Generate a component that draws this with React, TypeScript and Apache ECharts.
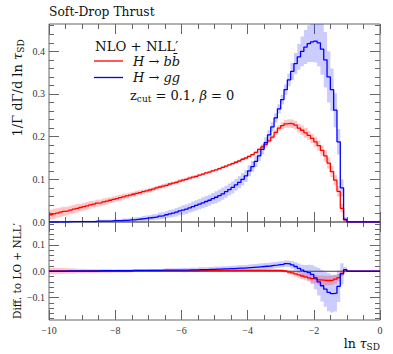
import React, { useEffect, useRef } from 'react';
import * as echarts from 'echarts';

// Histogram binning in ln(tau_SD)
const BIN_START = -10;
const BIN_WIDTH = 0.1;

// H -> bb, NLO + NLL' (top panel)
const bbCentral = [
  0.017, 0.019, 0.021, 0.023, 0.025, 0.026, 0.028, 0.030, 0.032, 0.034,
  0.036, 0.038, 0.040, 0.042, 0.044, 0.045, 0.047, 0.049, 0.051, 0.053,
  0.055, 0.057, 0.059, 0.061, 0.063, 0.065, 0.067, 0.069, 0.071, 0.073,
  0.075, 0.077, 0.080, 0.082, 0.084, 0.086, 0.089, 0.091, 0.093, 0.096,
  0.098, 0.100, 0.103, 0.105, 0.107, 0.110, 0.112, 0.115, 0.117, 0.120,
  0.122, 0.125, 0.128, 0.131, 0.134, 0.137, 0.140, 0.143, 0.147, 0.150,
  0.154, 0.158, 0.163, 0.170, 0.176, 0.182, 0.190, 0.199, 0.210, 0.220,
  0.226, 0.230, 0.231, 0.230, 0.227, 0.220, 0.215, 0.209, 0.203, 0.196,
  0.188, 0.179, 0.168, 0.155, 0.138, 0.118, 0.098, 0.072, 0.032, 0.005,
  0, 0, 0, 0, 0, 0, 0, 0, 0, 0,
];
const bbBand = [
  0.012, 0.012, 0.011, 0.011, 0.011, 0.010, 0.010, 0.010, 0.010, 0.009,
  0.009, 0.009, 0.009, 0.008, 0.008, 0.008, 0.008, 0.008, 0.007, 0.007,
  0.007, 0.007, 0.007, 0.006, 0.006, 0.006, 0.006, 0.006, 0.006, 0.005,
  0.005, 0.005, 0.005, 0.005, 0.005, 0.005, 0.004, 0.004, 0.004, 0.004,
  0.004, 0.004, 0.004, 0.004, 0.004, 0.003, 0.003, 0.003, 0.003, 0.003,
  0.003, 0.003, 0.003, 0.003, 0.003, 0.003, 0.003, 0.003, 0.003, 0.003,
  0.003, 0.003, 0.003, 0.004, 0.004, 0.004, 0.005, 0.005, 0.006, 0.007,
  0.008, 0.009, 0.010, 0.010, 0.010, 0.010, 0.011, 0.011, 0.011, 0.011,
  0.012, 0.012, 0.012, 0.013, 0.013, 0.013, 0.012, 0.012, 0.010, 0.004,
  0, 0, 0, 0, 0, 0, 0, 0, 0, 0,
];

// H -> gg, NLO + NLL' (top panel)
const ggCentral = [
  0.000, 0.000, 0.000, 0.000, 0.000, 0.000, 0.001, 0.001, 0.001, 0.001,
  0.001, 0.001, 0.001, 0.001, 0.002, 0.002, 0.002, 0.002, 0.002, 0.003,
  0.003, 0.003, 0.004, 0.004, 0.005, 0.005, 0.006, 0.007, 0.008, 0.009,
  0.010, 0.011, 0.012, 0.014, 0.015, 0.017, 0.019, 0.021, 0.023, 0.026,
  0.028, 0.030, 0.033, 0.036, 0.039, 0.042, 0.045, 0.048, 0.051, 0.055,
  0.058, 0.062, 0.066, 0.071, 0.076, 0.081, 0.087, 0.093, 0.100, 0.108,
  0.120, 0.130, 0.142, 0.155, 0.170, 0.186, 0.204, 0.223, 0.244, 0.265,
  0.287, 0.310, 0.333, 0.353, 0.371, 0.387, 0.400, 0.410, 0.418, 0.422,
  0.424, 0.420, 0.405, 0.380, 0.340, 0.310, 0.262, 0.188, 0.080, 0.006,
  0, 0, 0, 0, 0, 0, 0, 0, 0, 0,
];
const ggBand = [
  0.001, 0.001, 0.001, 0.001, 0.001, 0.002, 0.002, 0.002, 0.002, 0.002,
  0.002, 0.002, 0.002, 0.002, 0.002, 0.003, 0.003, 0.003, 0.003, 0.003,
  0.003, 0.003, 0.004, 0.004, 0.004, 0.005, 0.005, 0.005, 0.006, 0.006,
  0.006, 0.007, 0.007, 0.008, 0.008, 0.008, 0.009, 0.009, 0.010, 0.010,
  0.011, 0.011, 0.011, 0.012, 0.012, 0.012, 0.013, 0.013, 0.013, 0.013,
  0.014, 0.014, 0.014, 0.014, 0.014, 0.014, 0.014, 0.014, 0.014, 0.014,
  0.013, 0.013, 0.013, 0.012, 0.012, 0.012, 0.011, 0.011, 0.011, 0.011,
  0.011, 0.012, 0.015, 0.020, 0.025, 0.030, 0.035, 0.040, 0.043, 0.047,
  0.050, 0.055, 0.060, 0.065, 0.060, 0.050, 0.040, 0.030, 0.020, 0.005,
  0, 0, 0, 0, 0, 0, 0, 0, 0, 0,
];

// Difference to LO + NLL' (bottom panel)
const bbDiff = [
  0.001, 0.001, 0.001, 0.001, 0.001, 0.001, 0.001, 0.001, 0.001, 0.001,
  0.001, 0.001, 0.001, 0.001, 0.001, 0.001, 0.001, 0.001, 0.001, 0.001,
  0.001, 0.001, 0.001, 0.001, 0.001, 0.002, 0.002, 0.002, 0.002, 0.002,
  0.002, 0.002, 0.002, 0.002, 0.002, 0.002, 0.002, 0.002, 0.002, 0.002,
  0.002, 0.002, 0.002, 0.002, 0.002, 0.003, 0.003, 0.003, 0.003, 0.003,
  0.003, 0.003, 0.003, 0.003, 0.003, 0.003, 0.003, 0.003, 0.003, 0.003,
  0.003, 0.003, 0.003, 0.003, 0.003, 0.003, 0.003, 0.003, 0.003, 0.003,
  0.002, 0.000, -0.003, -0.006, -0.010, -0.014, -0.018, -0.021, -0.025, -0.028,
  -0.030, -0.033, -0.034, -0.035, -0.035, -0.034, -0.030, -0.024, -0.008, 0.004,
  0, 0, 0, 0, 0, 0, 0, 0, 0, 0,
];
const bbDiffBand = [
  0.012, 0.012, 0.011, 0.011, 0.011, 0.010, 0.010, 0.010, 0.009, 0.009,
  0.009, 0.008, 0.008, 0.008, 0.008, 0.007, 0.007, 0.007, 0.007, 0.006,
  0.006, 0.006, 0.006, 0.006, 0.006, 0.005, 0.005, 0.005, 0.005, 0.005,
  0.005, 0.005, 0.005, 0.004, 0.004, 0.004, 0.004, 0.004, 0.004, 0.004,
  0.003, 0.003, 0.003, 0.003, 0.003, 0.003, 0.003, 0.003, 0.003, 0.003,
  0.003, 0.003, 0.003, 0.003, 0.003, 0.003, 0.003, 0.003, 0.003, 0.003,
  0.003, 0.003, 0.003, 0.003, 0.003, 0.004, 0.004, 0.004, 0.004, 0.004,
  0.005, 0.006, 0.008, 0.009, 0.010, 0.011, 0.012, 0.013, 0.014, 0.015,
  0.016, 0.017, 0.018, 0.018, 0.018, 0.017, 0.016, 0.014, 0.010, 0.004,
  0, 0, 0, 0, 0, 0, 0, 0, 0, 0,
];
const ggDiff = [
  0.000, 0.000, 0.000, 0.000, 0.000, 0.001, 0.001, 0.001, 0.001, 0.001,
  0.001, 0.001, 0.001, 0.001, 0.001, 0.002, 0.002, 0.002, 0.002, 0.002,
  0.002, 0.002, 0.002, 0.002, 0.002, 0.003, 0.003, 0.003, 0.003, 0.003,
  0.003, 0.003, 0.003, 0.003, 0.004, 0.004, 0.004, 0.004, 0.004, 0.004,
  0.004, 0.004, 0.005, 0.005, 0.005, 0.006, 0.006, 0.006, 0.007, 0.007,
  0.008, 0.008, 0.009, 0.009, 0.010, 0.010, 0.011, 0.012, 0.012, 0.013,
  0.014, 0.015, 0.016, 0.017, 0.018, 0.019, 0.020, 0.022, 0.023, 0.025,
  0.026, 0.029, 0.028, 0.024, 0.018, 0.011, 0.004, -0.001, -0.005, -0.012,
  -0.025, -0.040, -0.055, -0.068, -0.080, -0.085, -0.083, -0.057, -0.010, 0.006,
  0, 0, 0, 0, 0, 0, 0, 0, 0, 0,
];
const ggDiffBand = [
  0.003, 0.003, 0.003, 0.003, 0.003, 0.003, 0.003, 0.003, 0.003, 0.003,
  0.004, 0.004, 0.004, 0.004, 0.004, 0.004, 0.004, 0.004, 0.004, 0.004,
  0.005, 0.005, 0.005, 0.005, 0.005, 0.005, 0.005, 0.005, 0.005, 0.005,
  0.006, 0.006, 0.006, 0.006, 0.006, 0.007, 0.007, 0.007, 0.007, 0.007,
  0.008, 0.008, 0.008, 0.008, 0.008, 0.009, 0.009, 0.009, 0.009, 0.009,
  0.010, 0.010, 0.010, 0.010, 0.010, 0.011, 0.011, 0.011, 0.011, 0.011,
  0.012, 0.012, 0.012, 0.012, 0.012, 0.012, 0.012, 0.012, 0.012, 0.012,
  0.012, 0.012, 0.013, 0.014, 0.016, 0.018, 0.021, 0.025, 0.030, 0.036,
  0.043, 0.052, 0.060, 0.067, 0.072, 0.072, 0.070, 0.060, 0.040, 0.010,
  0, 0, 0, 0, 0, 0, 0, 0, 0, 0,
];

// Axis ticks
const X_MIN = -10;
const X_MAX = 0;
const TOP_Y_MIN = 0;
const TOP_Y_MAX = 0.464;
const BOT_Y_MIN = -0.185;
const BOT_Y_MAX = 0.187;
const xMajorTicks = [-10, -8, -6, -4, -2, 0];
const xMinorTicks = [-9.5, -9, -8.5, -7.5, -7, -6.5, -5.5, -5, -4.5, -3.5, -3, -2.5, -1.5, -1, -0.5];
const yTopMajorTicks = [0, 0.1, 0.2, 0.3, 0.4];
const yTopMinorTicks = [0.02, 0.04, 0.06, 0.08, 0.12, 0.14, 0.16, 0.18, 0.22, 0.24, 0.26, 0.28, 0.32, 0.34, 0.36, 0.38, 0.42, 0.44, 0.46];
const yBotMajorTicks = [-0.1, 0, 0.1];
const yBotMinorTicks = [-0.18, -0.16, -0.14, -0.12, -0.08, -0.06, -0.04, -0.02, 0.02, 0.04, 0.06, 0.08, 0.12, 0.14, 0.16, 0.18];

const RED = '#ff0000';
const BLUE = '#0000ff';
const RED_BAND = 'rgba(255,0,0,0.22)';
const BLUE_BAND = 'rgba(0,0,255,0.2)';
const FRAME = '#666';
const SERIF = 'DejaVu Serif';
const TICK_FONT = 'Liberation Serif';

const nBins = bbCentral.length;
const binEdges = Array.from({ length: nBins + 1 }, (_, i) => +(BIN_START + i * BIN_WIDTH).toFixed(2));

function stepData(vals: number[]) {
  return binEdges.map((x, i) => [x, vals[Math.min(i, vals.length - 1)]]);
}

function lineSeries(vals: number[], color: string, xi: number, yi: number, z: number) {
  return {
    type: 'line', xAxisIndex: xi, yAxisIndex: yi, data: stepData(vals), step: 'end',
    symbol: 'none', silent: true, z, clip: true,
    lineStyle: { color, width: 1.3 }, itemStyle: { color },
  };
}

// Uncertainty band: one step-shaped polygon, positioned through the axes (api.coord)
function bandSeries(vals: number[], errs: number[], color: string, xi: number, yi: number) {
  return {
    type: 'custom', xAxisIndex: xi, yAxisIndex: yi, silent: true, z: 1,
    data: [[BIN_START, 0]],
    renderItem: (params: any, api: any) => {
      const cs = params.coordSys;
      const top = cs.y;
      const bottom = cs.y + cs.height;
      const clampY = (y: number) => Math.max(top, Math.min(bottom, y));
      const upper: number[][] = [];
      const lower: number[][] = [];
      for (let i = 0; i < vals.length; i++) {
        const hi = vals[i] + errs[i];
        const lo = vals[i] - errs[i];
        const a = api.coord([binEdges[i], hi]);
        const b = api.coord([binEdges[i + 1], hi]);
        upper.push([a[0], clampY(a[1])], [b[0], clampY(b[1])]);
        const c = api.coord([binEdges[i], lo]);
        const d = api.coord([binEdges[i + 1], lo]);
        lower.push([c[0], clampY(c[1])], [d[0], clampY(d[1])]);
      }
      return {
        type: 'polygon',
        shape: { points: upper.concat(lower.reverse()) },
        style: { fill: color, stroke: 'none' },
      };
    },
  };
}

const fmtSigned = (v: number, d: number) => (v < 0 ? '\u2212' : '') + Math.abs(v).toFixed(d);

function xAxis(gridIndex: number, position: string, ticks: number[], len: number, labels: boolean) {
  return {
    type: 'value', gridIndex, position, min: X_MIN, max: X_MAX,
    axisLine: { show: false, onZero: false },
    splitLine: { show: false },
    axisTick: { show: true, inside: true, length: len, customValues: ticks, lineStyle: { color: FRAME, width: 1 } },
    axisLabel: {
      show: labels, customValues: ticks, margin: 5,
      fontFamily: TICK_FONT, fontSize: 10, color: '#333',
      formatter: (v: number) => fmtSigned(v, 0),
    },
  };
}

function yAxis(gridIndex: number, position: string, min: number, max: number, ticks: number[], len: number, labels: boolean) {
  return {
    type: 'value', gridIndex, position, min, max,
    axisLine: { show: false, onZero: false },
    splitLine: { show: false },
    axisTick: { show: true, inside: true, length: len, customValues: ticks, lineStyle: { color: FRAME, width: 1 } },
    axisLabel: {
      show: labels, customValues: ticks, margin: 4,
      fontFamily: TICK_FONT, fontSize: 10, color: '#333',
      formatter: (v: number) => fmtSigned(v, 1),
    },
  };
}

const MAJOR = 10;
const MINOR = 5;

const option: any = {
  animation: false,
  backgroundColor: '#fff',
  grid: [
    { left: 49, top: 24, width: 331, height: 198, show: true, borderColor: FRAME, borderWidth: 1, backgroundColor: 'transparent' },
    { left: 49, top: 222, width: 331, height: 98, show: true, borderColor: FRAME, borderWidth: 1, backgroundColor: 'transparent' },
  ],
  xAxis: [
    xAxis(0, 'bottom', xMajorTicks, MAJOR, false),
    xAxis(0, 'bottom', xMinorTicks, MINOR, false),
    xAxis(0, 'top', xMajorTicks, MAJOR, false),
    xAxis(0, 'top', xMinorTicks, MINOR, false),
    xAxis(1, 'bottom', xMajorTicks, MAJOR, true),
    xAxis(1, 'bottom', xMinorTicks, MINOR, false),
    xAxis(1, 'top', xMajorTicks, MAJOR, false),
    xAxis(1, 'top', xMinorTicks, MINOR, false),
  ],
  yAxis: [
    yAxis(0, 'left', TOP_Y_MIN, TOP_Y_MAX, yTopMajorTicks, MAJOR, true),
    yAxis(0, 'left', TOP_Y_MIN, TOP_Y_MAX, yTopMinorTicks, MINOR, false),
    yAxis(0, 'right', TOP_Y_MIN, TOP_Y_MAX, yTopMajorTicks, MAJOR, false),
    yAxis(0, 'right', TOP_Y_MIN, TOP_Y_MAX, yTopMinorTicks, MINOR, false),
    yAxis(1, 'left', BOT_Y_MIN, BOT_Y_MAX, yBotMajorTicks, MAJOR, true),
    yAxis(1, 'left', BOT_Y_MIN, BOT_Y_MAX, yBotMinorTicks, MINOR, false),
    yAxis(1, 'right', BOT_Y_MIN, BOT_Y_MAX, yBotMajorTicks, MAJOR, false),
    yAxis(1, 'right', BOT_Y_MIN, BOT_Y_MAX, yBotMinorTicks, MINOR, false),
  ],
  series: [
    bandSeries(ggCentral, ggBand, BLUE_BAND, 0, 0),
    bandSeries(bbCentral, bbBand, RED_BAND, 0, 0),
    lineSeries(bbCentral, RED, 0, 0, 3),
    lineSeries(ggCentral, BLUE, 0, 0, 4),
    bandSeries(ggDiff, ggDiffBand, BLUE_BAND, 4, 4),
    bandSeries(bbDiff, bbDiffBand, RED_BAND, 4, 4),
    {
      type: 'line', xAxisIndex: 4, yAxisIndex: 4, data: [[X_MIN, 0], [X_MAX, 0]],
      symbol: 'none', silent: true, z: 2, lineStyle: { color: '#444', width: 1 },
    },
    lineSeries(bbDiff, RED, 4, 4, 3),
    lineSeries(ggDiff, BLUE, 4, 4, 4),
  ],
  graphic: [
    {
      type: 'text', x: 49, y: 12,
      style: { text: 'Soft-Drop Thrust', fontFamily: SERIF, fontSize: 12.3, fill: '#111', align: 'left', verticalAlign: 'middle' },
    },
    {
      type: 'text', x: 95, y: 46,
      style: { text: 'NLO + NLL\u2032', fontFamily: SERIF, fontSize: 13.3, fill: '#111', align: 'left', verticalAlign: 'middle' },
    },
    { type: 'line', shape: { x1: 94, y1: 61, x2: 123, y2: 61 }, style: { stroke: RED, lineWidth: 1.3 } },
    { type: 'line', shape: { x1: 94, y1: 77.5, x2: 123, y2: 77.5 }, style: { stroke: BLUE, lineWidth: 1.3 } },
    {
      type: 'text', x: 133, y: 61,
      style: {
        text: '{i|H} \u2192 {i|bb\u0304}', fontFamily: SERIF, fontSize: 13, fill: '#111', align: 'left', verticalAlign: 'middle',
        rich: { i: { fontFamily: SERIF, fontSize: 13, fontStyle: 'italic', fill: '#111' } },
      },
    },
    {
      type: 'text', x: 133, y: 77,
      style: {
        text: '{i|H} \u2192 {i|gg}', fontFamily: SERIF, fontSize: 13, fill: '#111', align: 'left', verticalAlign: 'middle',
        rich: { i: { fontFamily: SERIF, fontSize: 13, fontStyle: 'italic', fill: '#111' } },
      },
    },
    {
      type: 'text', x: 130, y: 95,
      style: {
        text: '{n|z}{s|cut}{n| = 0.1, }{i|\u03b2}{n| = 0}', align: 'left', verticalAlign: 'middle',
        rich: {
          n: { fontFamily: SERIF, fontSize: 13, fill: '#111', lineHeight: 17 },
          i: { fontFamily: SERIF, fontSize: 13, fontStyle: 'italic', fill: '#111', lineHeight: 17 },
          s: { fontFamily: SERIF, fontSize: 9, fill: '#111', verticalAlign: 'bottom', lineHeight: 10 },
        },
      },
    },
    {
      type: 'text', x: 17, y: 88, rotation: Math.PI / 2,
      style: {
        text: '{n|1/\u0393 d\u0393/d ln }{i|\u03c4}{s|SD}', align: 'center', verticalAlign: 'middle',
        rich: {
          n: { fontFamily: SERIF, fontSize: 13, fill: '#111', lineHeight: 17 },
          i: { fontFamily: SERIF, fontSize: 13, fontStyle: 'italic', fill: '#111', lineHeight: 17 },
          s: { fontFamily: SERIF, fontSize: 9, fill: '#111', verticalAlign: 'bottom', lineHeight: 10 },
        },
      },
    },
    {
      type: 'text', x: 17, y: 271, rotation: Math.PI / 2,
      style: { text: 'Diff. to LO + NLL\u2032', fontFamily: SERIF, fontSize: 10.5, fill: '#111', align: 'center', verticalAlign: 'middle' },
    },
    {
      type: 'text', x: 380, y: 343,
      style: {
        text: '{n|ln }{i|\u03c4}{s|SD}', align: 'right', verticalAlign: 'middle',
        rich: {
          n: { fontFamily: SERIF, fontSize: 12.5, fill: '#111', lineHeight: 17 },
          i: { fontFamily: SERIF, fontSize: 12.5, fontStyle: 'italic', fill: '#111', lineHeight: 17 },
          s: { fontFamily: SERIF, fontSize: 9, fill: '#111', verticalAlign: 'bottom', lineHeight: 10 },
        },
      },
    },
  ],
};

export default function App() {
  const ref = useRef<HTMLDivElement>(null);
  useEffect(() => {
    if (!ref.current) return;
    const chart = echarts.init(ref.current, null, { renderer: 'svg' });
    chart.setOption(option);
    return () => chart.dispose();
  }, []);
  return (
    <div
      ref={ref}
      style={{ position: 'fixed', left: 0, top: 0, width: 393, height: 354, background: '#fff' }}
    />
  );
}
